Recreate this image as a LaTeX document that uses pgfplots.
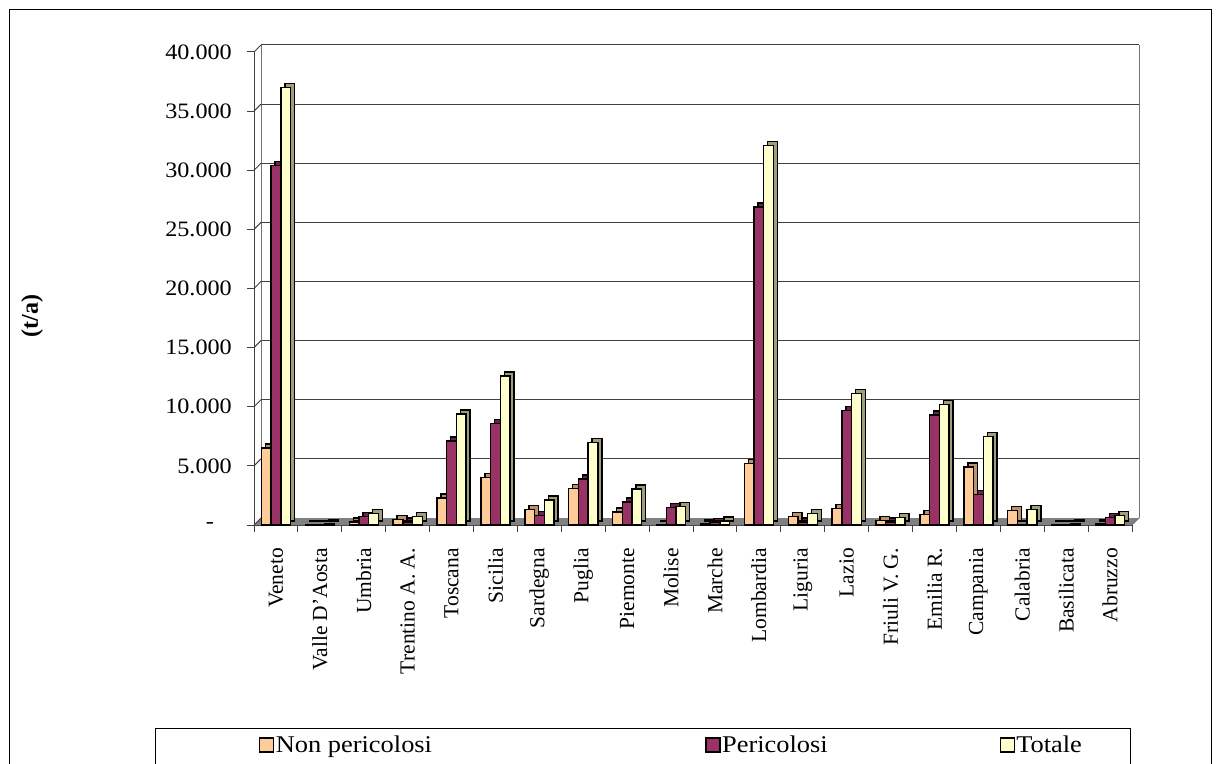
\documentclass[border=0pt]{standalone}
\usepackage{fontspec}
\setmainfont{Liberation Serif}
\newfontfamily\wf[FakeStretch=1.1]{Liberation Serif}
\usepackage{pgfplots}
\pgfplotsset{compat=1.18}
\usepackage{pgfplotstable}

\definecolor{cNon}{HTML}{FFCC99}
\definecolor{cPer}{HTML}{993366}
\definecolor{cTot}{HTML}{FFFFCC}

\pgfplotstableread{
x non per tot
0 6500 30400 37000
1 60 20 80
2 250 700 950
3 450 250 700
4 2300 7100 9400
5 4000 8600 12600
6 1300 800 2100
7 3100 3900 7000
8 1100 1950 3050
9 50 1500 1550
10 150 200 350
11 5200 26900 32100
12 700 250 950
13 1400 9700 11100
14 400 250 650
15 900 9300 10200
16 4900 2600 7500
17 1250 50 1300
18 30 60 90
19 150 650 800
}\datatable

\begin{document}
\begin{tikzpicture}[x=1pt,y=1pt]
\useasboundingbox (0,0) rectangle (1222,763);
\draw[line width=1pt] (9,-5) -- (9,753) -- (1211,753) -- (1211,-5);
\draw[line width=1pt] (155,-5) -- (155,35) -- (1130,35) -- (1130,-5);
\begin{axis}[
  at={(254pt,238pt)}, anchor=south west,
  scale only axis, width=878pt, height=473pt,
  xmin=-0.5, xmax=19.5, ymin=0, ymax=40000,
  scaled y ticks=false,
  clip=false,
  axis x line*=bottom, axis y line*=left,
  axis line style={black!75, line width=1pt},
  ybar, bar width=9.7pt,
  xtick={0,...,19},
  xticklabels={Veneto,Valle D'Aosta,Umbria,Trentino A. A.,Toscana,Sicilia,Sardegna,Puglia,Piemonte,Molise,Marche,Lombardia,Liguria,Lazio,Friuli V. G.,Emilia R.,Campania,Calabria,Basilicata,Abruzzo},
  x tick label style={rotate=90, anchor=east, inner sep=0pt, font=\fontsize{21.5}{24}\selectfont},
  xticklabel shift=16pt,
  major x tick style={draw=none},
  minor xtick={-0.5,0.5,...,19.5},
  minor x tick style={black!75, line width=1pt},
  minor tick length=7pt,
  tick align=outside,
  ytick={0,5000,...,40000},
  yticklabels={\makebox[26pt][l]{-},5.000,10.000,15.000,20.000,25.000,30.000,35.000,40.000},
  y tick label style={anchor=east, inner sep=0pt, font=\wf\fontsize{22}{26}\selectfont},
  yticklabel shift=15pt,
  major tick length=7pt,
  ytick style={black!75, line width=1pt},
  ylabel={\textbf{(t/a)}},
  every axis y label/.style={at={(axis description cs:-0.2528,0.4419)}, rotate=90, anchor=center, font=\fontsize{24}{27}\selectfont},
  legend columns=3,
  legend style={at={(axis description cs:0.0057,-0.4651)}, anchor=west, draw=none, fill=none, inner sep=0pt, nodes={inner sep=1.5pt}, font=\wf\fontsize{24}{28}\selectfont},
  legend image code/.code={\draw[#1, line width=1.2pt] (0pt,-7pt) rectangle (14pt,7pt);},
]
% floor
\fill[black!50] (axis cs:-0.5,0) -- (axis cs:19.5,0) -- ([shift={(7pt,7pt)}]axis cs:19.5,0) -- ([shift={(7pt,7pt)}]axis cs:-0.5,0) -- cycle;
% walls
\draw[black!55, line width=1pt] ([shift={(7pt,7pt)}]axis cs:-0.5,0) -- ([shift={(7pt,7pt)}]axis cs:-0.5,40000);
\draw[black!55, line width=1pt] ([shift={(7pt,7pt)}]axis cs:19.5,0) -- ([shift={(7pt,7pt)}]axis cs:19.5,40000);
\draw[black!55, line width=1pt] (axis cs:19.5,0) -- ([shift={(7pt,7pt)}]axis cs:19.5,0);
\pgfplotsinvokeforeach{5000,10000,15000,20000,25000,30000,35000,40000}{
  \draw[black!75, line width=1pt] ([shift={(7pt,7pt)}]axis cs:-0.5,#1) -- ([shift={(7pt,7pt)}]axis cs:19.5,#1);
  \draw[black!75, line width=1pt] (axis cs:-0.5,#1) -- ([shift={(7pt,7pt)}]axis cs:-0.5,#1);
}
\draw[black!75, line width=1pt] (axis cs:-0.5,0) -- ([shift={(7pt,7pt)}]axis cs:-0.5,0);

\addplot[forget plot, fill=cNon!72!black, draw=black, line width=1.4pt, bar shift=-9.7pt, xshift=4pt, yshift=4pt] table[x=x,y=non]{\datatable};
\addplot[fill=cNon, draw=black, line width=1.4pt, bar shift=-9.7pt] table[x=x,y=non]{\datatable};
\addplot[forget plot, fill=cPer!70!black, draw=black, line width=1.4pt, bar shift=0pt, xshift=4pt, yshift=4pt] table[x=x,y=per]{\datatable};
\addplot[fill=cPer, draw=black, line width=1.4pt, bar shift=0pt] table[x=x,y=per]{\datatable};
\addplot[forget plot, fill=cTot!62!black, draw=black, line width=1.4pt, bar shift=9.7pt, xshift=4pt, yshift=4pt] table[x=x,y=tot]{\datatable};
\addplot[fill=cTot, draw=black, line width=1.4pt, bar shift=9.7pt] table[x=x,y=tot]{\datatable};
\legend{\makebox[428pt][l]{Non pericolosi},\makebox[276pt][l]{Pericolosi},Totale}
\end{axis}
\end{tikzpicture}
\end{document}
